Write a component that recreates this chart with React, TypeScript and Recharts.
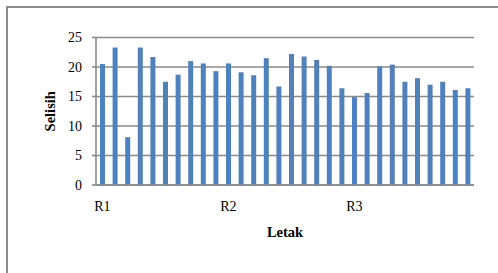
import React from 'react';
import { BarChart, Bar, XAxis, YAxis, CartesianGrid, Label } from 'recharts';

// measurement points along the section, grouped as R1 / R2 / R3
const points = [
  '1', '2', '3', '4', '5', '6', '7', '8', '9', '10',
  '11', '12', '13', '14', '15', '16', '17', '18', '19', '20',
  '21', '22', '23', '24', '25', '26', '27', '28', '29', '30',
];
const selisih = [
  20.5, 23.3, 8.1, 23.3, 21.7, 17.5, 18.7, 21.0, 20.6, 19.3,
  20.6, 19.1, 18.6, 21.5, 16.7, 22.2, 21.8, 21.2, 20.2, 16.4,
  14.9, 15.6, 20.1, 20.4, 17.5, 18.1, 17.0, 17.5, 16.1, 16.4,
];
const groupLabels: Record<string, string> = { '1': 'R1', '11': 'R2', '21': 'R3' };
const yTicks = [0, 5, 10, 15, 20, 25];

const data = points.map((p, i) => ({ point: p, selisih: selisih[i] }));

const FONT = '"Liberation Serif", "Times New Roman", serif';
const GRID = '#8a8a8a';

export default function App() {
  return (
    <div style={{ position: 'absolute', left: 0, top: 0, width: 498, height: 273, overflow: 'hidden', background: '#fff' }}>
      <div
        style={{
          position: 'absolute', left: 6, top: 6, width: 520, height: 300,
          border: '2px solid #8c8c8c', boxSizing: 'border-box',
        }}
      />
      <div style={{ position: 'absolute', left: 0, top: 0 }}>
        <BarChart
          width={498}
          height={273}
          data={data}
          margin={{ top: 37.5, right: 24, bottom: 28, left: 0 }}
          barSize={5}
        >
          <CartesianGrid horizontal vertical={false} stroke={GRID} strokeWidth={1.6} />
          <XAxis
            dataKey="point"
            interval={9}
            tickFormatter={(v) => groupLabels[v] ?? ''}
            tickLine={false}
            tickSize={0}
            tickMargin={16}
            height={60}
            axisLine={{ stroke: GRID, strokeWidth: 1.6 }}
            tick={{ fontFamily: FONT, fontSize: 14, fill: '#000' }}
          >
            <Label
              content={({ viewBox }: any) => (
                <text
                  x={viewBox.x + viewBox.width / 2}
                  y={237}
                  textAnchor="middle"
                  fontFamily={FONT}
                  fontSize={14.5}
                  fontWeight="bold"
                  fill="#000"
                >
                  Letak
                </text>
              )}
            />
          </XAxis>
          <YAxis
            domain={[0, 25]}
            ticks={yTicks}
            width={96}
            tickSize={4}
            tickMargin={10}
            tickLine={{ stroke: GRID, strokeWidth: 1.6 }}
            axisLine={{ stroke: GRID, strokeWidth: 1.6 }}
            tick={{ fontFamily: FONT, fontSize: 14, fill: '#000' }}
          >
            <Label
              content={({ viewBox }: any) => {
                const cy = viewBox.y + viewBox.height / 2;
                return (
                  <text
                    x={55}
                    y={cy}
                    transform={`rotate(-90, 55, ${cy})`}
                    textAnchor="middle"
                    fontFamily={FONT}
                    fontSize={14.5}
                    fontWeight="bold"
                    fill="#000"
                  >
                    Selisih
                  </text>
                );
              }}
            />
          </YAxis>
          <Bar dataKey="selisih" fill="#4f81bd" isAnimationActive={false} />
        </BarChart>
      </div>
    </div>
  );
}
